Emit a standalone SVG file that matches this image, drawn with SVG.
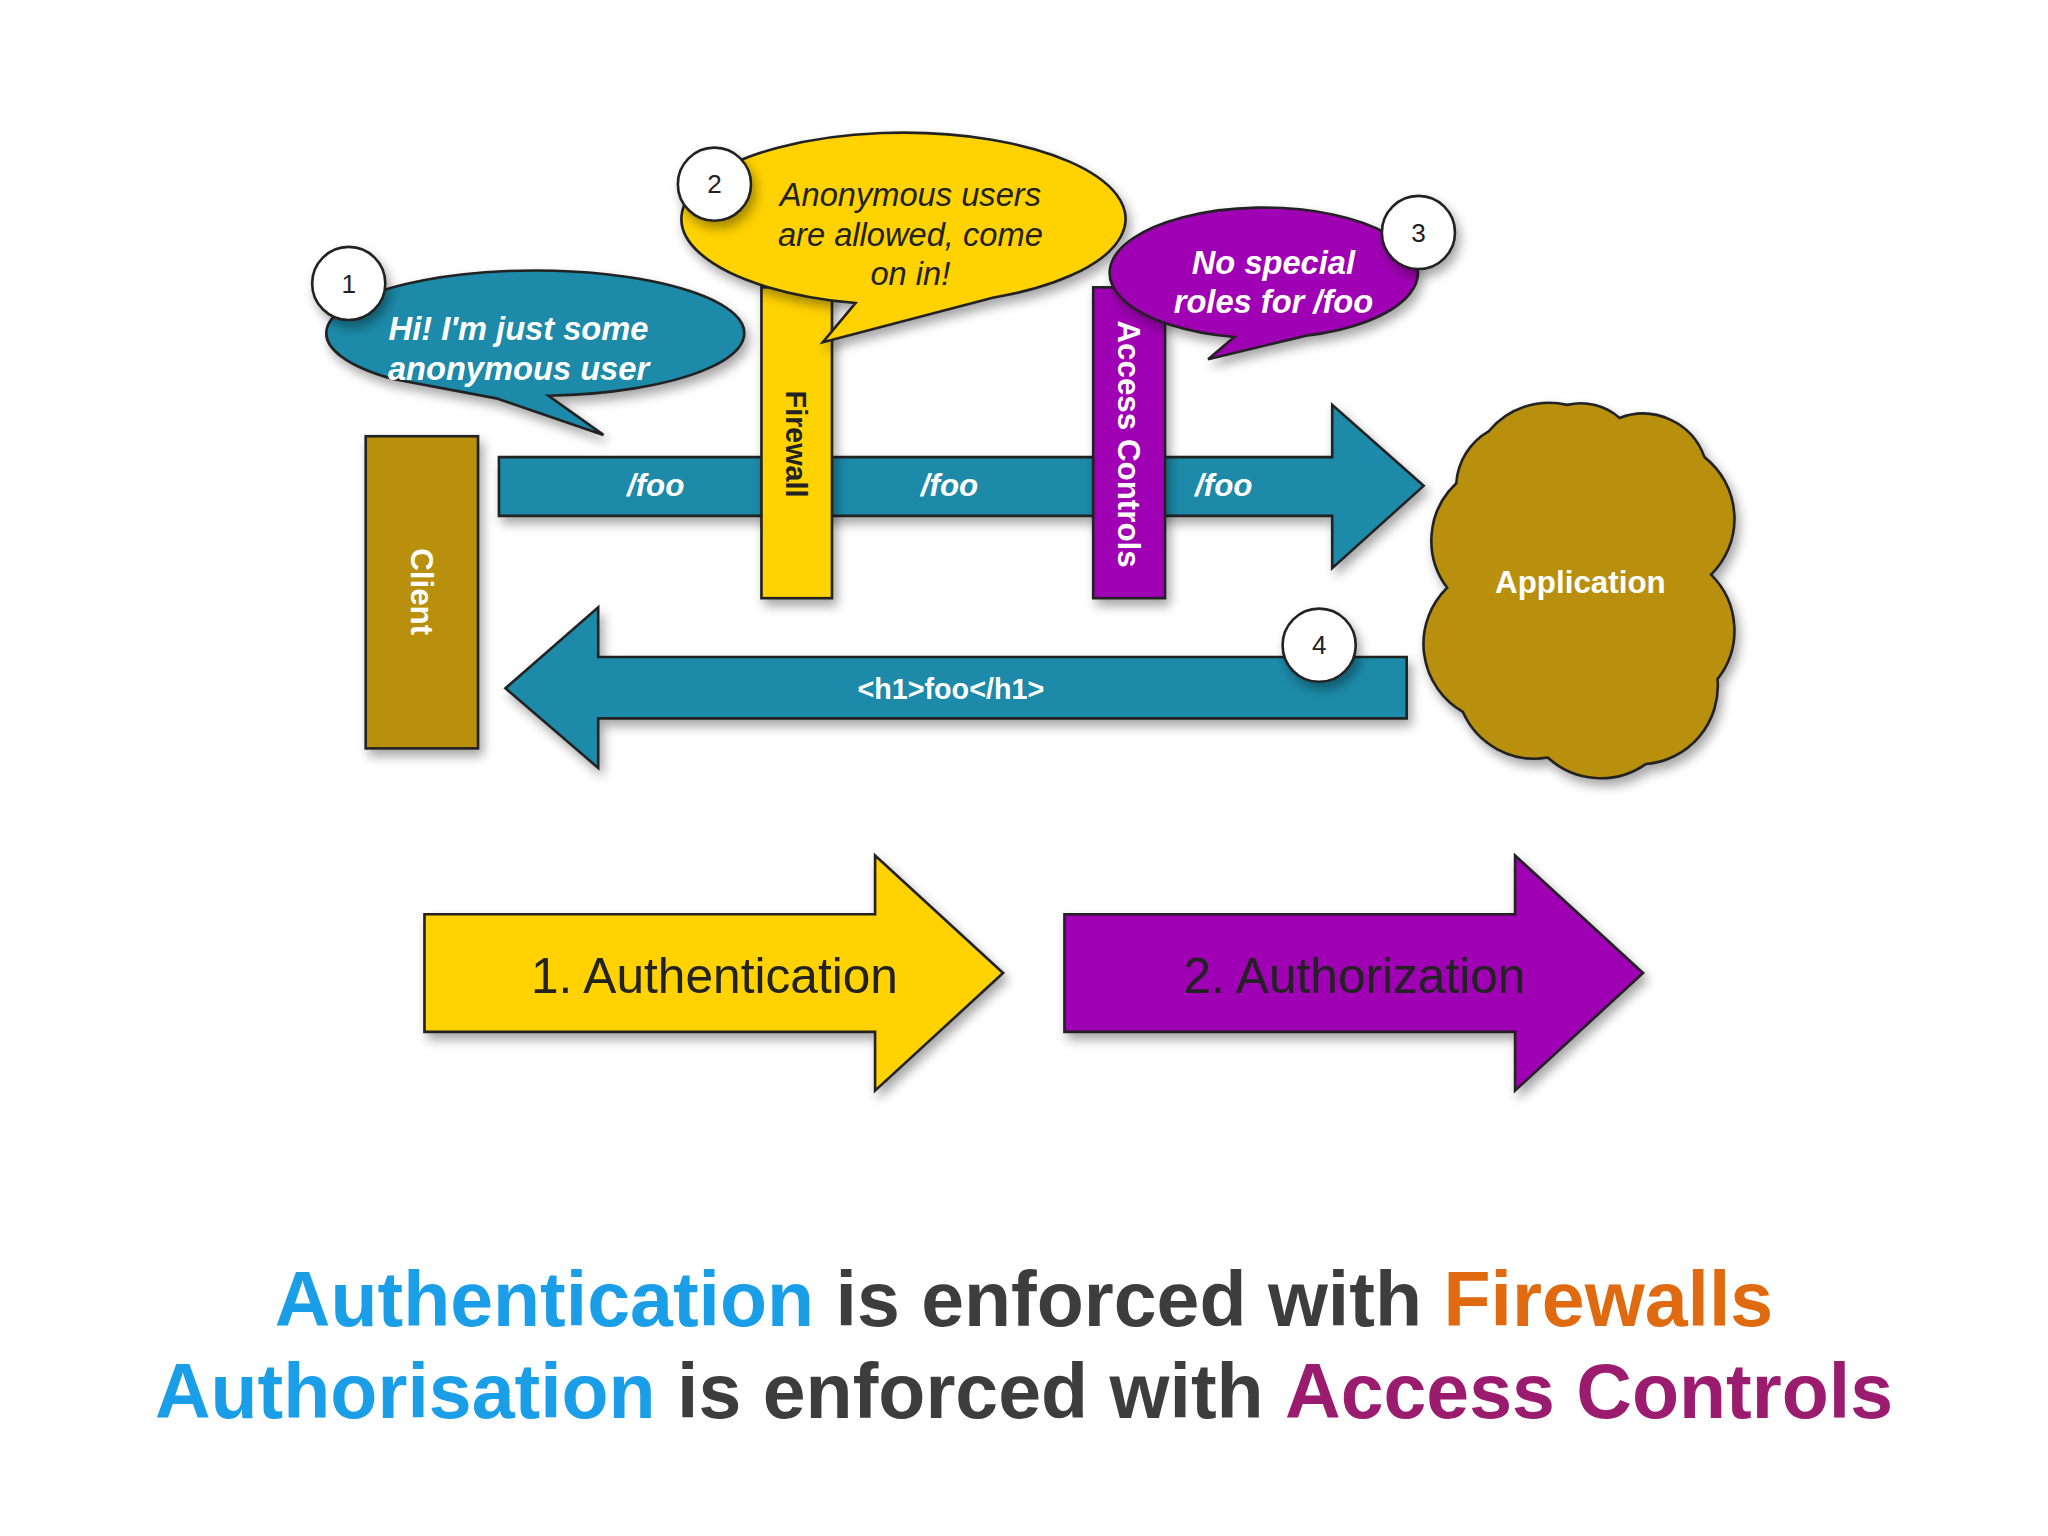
<svg xmlns="http://www.w3.org/2000/svg" width="2048" height="1536" viewBox="0 0 2048 1536">
<defs>
<filter id="sh" x="-20%" y="-20%" width="150%" height="150%"><feDropShadow dx="3" dy="5" stdDeviation="4" flood-color="#000" flood-opacity="0.35"/></filter>
<style>
.s{stroke:#222;stroke-width:2;filter:url(#sh)}
.teal{fill:#1a8aa8}.yel{fill:#ffd200}.pur{fill:#a000b4}.olv{fill:#b8900c}
.w{fill:#fff;font-family:"Liberation Sans",Arial,sans-serif;font-weight:bold}
.d{fill:#222;font-family:"Liberation Sans",Arial,sans-serif}
.num{fill:#222;font-family:"Liberation Sans",Arial,sans-serif;font-size:20px;text-anchor:middle}
.circ{fill:#fff;stroke:#222;stroke-width:2;filter:url(#sh)}
.big{font-family:"Liberation Sans",Arial,sans-serif;font-weight:bold;font-size:59px;text-anchor:middle}
</style>
</defs>
<rect width="2048" height="1536" fill="#fff"/>
<g transform="scale(1.3061)">
<g id="connectors">
<path class="s teal" d="M382,350 H1020 V310 L1090,372 L1020,435 V395 H382 Z"/>
<path class="s teal" d="M1077,503 H458 V465 L387,527 L458,588 V550 H1077 Z"/>
</g>
<g id="client"><rect class="s olv" x="280" y="334" width="86" height="239"/>
<text class="w" font-size="24" text-anchor="middle" transform="translate(323,453) rotate(90)" dy="8">Client</text></g>
<g id="firewall"><rect class="s yel" x="583" y="220" width="54" height="238"/>
<text class="d" font-weight="bold" font-size="22" text-anchor="middle" transform="translate(610,340) rotate(90)" dy="8">Firewall</text></g>
<g id="access"><rect class="s pur" x="837" y="220" width="55" height="238"/>
<text class="w" font-size="24" text-anchor="middle" transform="translate(864,340) rotate(90)" dy="8">Access Controls</text></g>
<g id="labels">
<text class="w" font-size="24" font-style="italic" font-weight="normal" text-anchor="middle" x="502" y="380">/foo</text>
<text class="w" font-size="24" font-style="italic" font-weight="normal" text-anchor="middle" x="727" y="380">/foo</text>
<text class="w" font-size="24" font-style="italic" font-weight="normal" text-anchor="middle" x="937" y="380">/foo</text>
<text class="w" font-size="22" font-weight="normal" text-anchor="middle" x="728" y="535">&lt;h1&gt;foo&lt;/h1&gt;</text>
</g>
<g id="application"><path class="s olv" d="M1140,330 A60,60 0 0 1 1200,310 A45,45 0 0 1 1240,320 A50,50 0 0 1 1305,350 A60,60 0 0 1 1310,440 A60,60 0 0 1 1315,520 A60,60 0 0 1 1260,585 A60,60 0 0 1 1185,580 A60,60 0 0 1 1120,545 A60,60 0 0 1 1108,450 A60,60 0 0 1 1115,370 A50,50 0 0 1 1140,330 Z"/>
<text class="w" font-size="24" text-anchor="middle" x="1210" y="454">Application</text></g>
<g id="n4"><circle class="circ" cx="1010" cy="494" r="28"/><text class="num" x="1010" y="501">4</text></g>
<g id="bubble1"><path class="s teal" d="M300,290 A160,48 0 1 1 420,303 L462,333 L380,305 Z"/>
<text class="w" font-size="25" font-style="italic" text-anchor="middle" x="397" y="260">Hi! I'm just some</text>
<text class="w" font-size="25" font-style="italic" text-anchor="middle" x="397" y="291">anonymous user</text>
<circle class="circ" cx="267" cy="217" r="28"/><text class="num" x="267" y="224">1</text></g>
<g id="bubble2"><path class="s yel" d="M760,228 A170,66 0 1 0 655,232 L630,262 Z"/>
<text class="d" font-size="25" font-style="italic" text-anchor="middle" x="697" y="158">Anonymous users</text>
<text class="d" font-size="25" font-style="italic" text-anchor="middle" x="697" y="188">are allowed, come</text>
<text class="d" font-size="25" font-style="italic" text-anchor="middle" x="697" y="218">on in!</text>
<circle class="circ" cx="547" cy="141" r="28"/><text class="num" x="547" y="148">2</text></g>
<g id="bubble3"><path class="s pur" d="M1000,257 A118,50 0 1 0 945,258 L925,275 Z"/>
<text class="w" font-size="25" font-style="italic" font-weight="normal" text-anchor="middle" x="975" y="210">No special</text>
<text class="w" font-size="25" font-style="italic" font-weight="normal" text-anchor="middle" x="975" y="240">roles for /foo</text>
<circle class="circ" cx="1086" cy="178" r="28"/><text class="num" x="1086" y="185">3</text></g>
<g id="authn"><path class="s yel" d="M325,700 H670 V655 L768,745 L670,835 V790 H325 Z"/>
<text class="d" font-size="38" text-anchor="middle" x="547" y="760">1. Authentication</text></g>
<g id="authz"><path class="s pur" d="M815,700 H1160 V655 L1258,745 L1160,835 V790 H815 Z"/>
<text class="d" font-size="38" text-anchor="middle" x="1037" y="760">2. Authorization</text></g>
<g id="caption">
<text class="big" x="784" y="1015"><tspan fill="#1a9ee8">Authentication</tspan><tspan fill="#3d3d3d"> is enforced with </tspan><tspan fill="#e06a10">Firewalls</tspan></text>
<text class="big" x="784" y="1086"><tspan fill="#1a9ee8">Authorisation</tspan><tspan fill="#3d3d3d"> is enforced with </tspan><tspan fill="#9b1b6e">Access Controls</tspan></text>
</g>
</g>
</svg>
